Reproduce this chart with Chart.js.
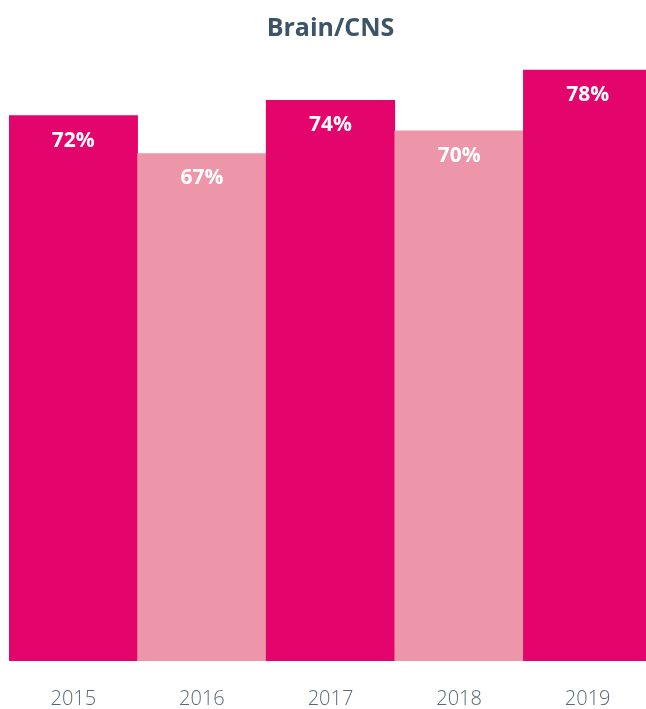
<!DOCTYPE html>
<html>
<head>
<meta charset="utf-8">
<script src="https://cdn.jsdelivr.net/npm/chart.js@4"></script>
<style>
  html, body { margin: 0; padding: 0; background: #fff; overflow: hidden; }
  #wrap { width: 646px; height: 709px; overflow: hidden; }
</style>
</head>
<body>
<div id="wrap"><canvas id="chart" width="652" height="709"></canvas></div>
<script>
const years = ['2015', '2016', '2017', '2018', '2019'];
const survival = [72, 67, 74, 70, 78];
const barColors = ['#e3056c', '#ee96a9', '#e3056c', '#ee96a9', '#e3056c'];

// white percent labels just under the top of each bar
const barLabels = {
    id: 'barLabels',
    afterDatasetsDraw(chart) {
        const ctx = chart.ctx;
        const meta = chart.getDatasetMeta(0);
        ctx.save();
        ctx.fillStyle = '#ffffff';
        ctx.font = 'bold 21px "Open Sans"';
        ctx.textAlign = 'center';
        ctx.textBaseline = 'middle';
        meta.data.forEach((bar, i) => {
            ctx.fillText(survival[i] + '%', bar.x, bar.y + 25);
        });
        ctx.restore();
    }
};

new Chart(document.getElementById('chart').getContext('2d'), {
    type: 'bar',
    data: {
        labels: years,
        datasets: [{
            data: survival,
            backgroundColor: barColors,
            borderWidth: 0,
            barPercentage: 1,
            categoryPercentage: 1
        }]
    },
    options: {
        responsive: false,
        animation: false,
        layout: { padding: { left: 9, right: 0, top: 0, bottom: 0 } },
        scales: {
            x: {
                grid: { display: false, drawTicks: false },
                border: { display: false },
                afterFit(scale) { scale.height = 48; },
                ticks: {
                    color: '#56697a',
                    padding: 28,
                    maxRotation: 0,
                    font: { family: '"Open Sans"', size: 20, weight: '300', lineHeight: 1 }
                }
            },
            y: { display: false, min: 0, max: 80 }
        },
        plugins: {
            legend: { display: false },
            tooltip: { enabled: false },
            title: {
                display: true,
                text: 'Brain/CNS',
                color: '#3d5466',
                font: { family: '"Open Sans"', size: 25, weight: 'bold', lineHeight: 1.2 },
                padding: { top: 14, bottom: 11 }
            }
        }
    },
    plugins: [barLabels]
});
</script>
</body>
</html>
